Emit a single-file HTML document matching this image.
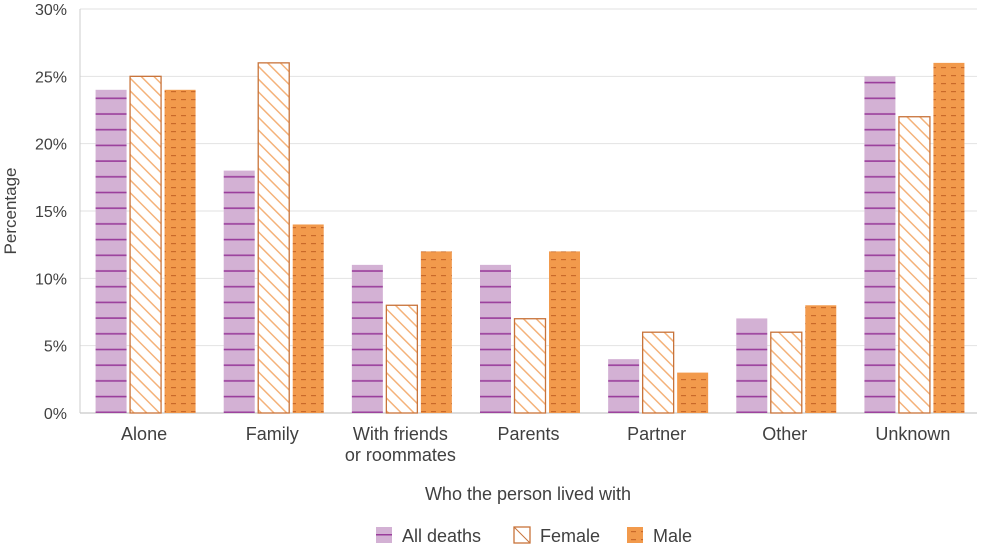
<!DOCTYPE html>
<html><head><meta charset="utf-8"><style>
body{margin:0;background:#fff;font-family:"Liberation Sans",sans-serif;}
text{font-family:"Liberation Sans",sans-serif;fill:#404040;}
</style></head><body>
<svg id="chart" width="1000" height="551">
<defs>
<pattern id="pPurple" width="8" height="15.7" patternUnits="userSpaceOnUse" y="5">
<rect width="8" height="15.7" fill="#d3b1d4"/><rect y="14" width="8" height="1.6" fill="#9a3d9b"/></pattern>
<pattern id="pFemale" width="9" height="9" patternUnits="userSpaceOnUse" patternTransform="rotate(-45)">
<rect width="9" height="9" fill="#fff"/><rect width="1.5" height="9" fill="#f4b27a"/></pattern>
<pattern id="pMale" width="10" height="8" patternUnits="userSpaceOnUse">
<rect width="10" height="8" fill="#f29a4c"/><rect x="1" y="3" width="5" height="1.2" fill="#c9692a"/></pattern>
</defs>
<g id="grid"></g><g id="bars"></g><g id="labels"></g>
<text x="16" y="211" font-size="17" transform="rotate(-90 16 211)" text-anchor="middle">Percentage</text>
<text x="528" y="500" font-size="18" text-anchor="middle">Who the person lived with</text>
<g>
<g><rect x="376" y="527" width="16" height="16" fill="#d3b1d4"/><rect x="376" y="534" width="16" height="1.5" fill="#9a3d9b"/><text x="402" y="542" font-size="18">All deaths</text></g>
<g><rect x="514" y="527" width="16" height="16" fill="#fff" stroke="#c8733a" stroke-width="1.3"/><line x1="514" y1="527" x2="530" y2="543" stroke="#c8733a"/><text x="540" y="542" font-size="18">Female</text></g>
<g><rect x="627" y="527" width="16" height="16" fill="url(#pMale)"/><text x="653" y="542" font-size="18">Male</text></g>
</g>
</svg>
<script>
const categories=[["Alone"],["Family"],["With friends","or roommates"],["Parents"],["Partner"],["Other"],["Unknown"]];
const allDeaths=[24,18,11,11,4,7,25];
const female=[25,26,8,7,6,6,22];
const male=[24,14,12,12,3,8,26];
const yTicks=[0,5,10,15,20,25,30];
const NS="http://www.w3.org/2000/svg";
const x0=80,x1=977,y0=413,y1=9;
const y=v=>y0-(v/30)*(y0-y1);
const band=(x1-x0)/categories.length;
const cx=i=>x0+band*(i+0.5);
function mk(t,a,p){const e=document.createElementNS(NS,t);for(const k in a)e.setAttribute(k,a[k]);p.appendChild(e);return e;}
const grid=document.getElementById('grid'),bars=document.getElementById('bars'),labels=document.getElementById('labels');
yTicks.forEach(t=>{
 const l=mk('line',{x1:x0,x2:x1,y1:y(t),y2:y(t),stroke:t===0?'#bbb':'#e2e2e2','stroke-width':1},grid);
 
 
 const tx=mk('text',{x:67,y:y(t)+6,'font-size':16,'text-anchor':'end'},labels);tx.textContent=t+'%';
 
 
});
mk('line',{x1:x0,x2:x0,y1:y1,y2:y0,stroke:'#ccc'},grid);
const series=[[allDeaths,'url(#pPurple)','none','all-deaths'],[female,'url(#pFemale)','#c8733a','female'],[male,'url(#pMale)','none','male']];
const bw=31,gap=3.5;
categories.forEach((c,i)=>{
 series.forEach((s,j)=>{
  const bx=cx(i)-1.5*bw-gap+j*(bw+gap)+1.5;
  const r=mk('rect',{x:bx,y:y(s[0][i]),width:bw,height:y0-y(s[0][i]),fill:s[1],stroke:s[2],'stroke-width':1.3},bars);
  
  
 });
 c.forEach((ln,k)=>{
  const t=mk('text',{x:cx(i),y:440+k*21,'font-size':18,'text-anchor':'middle'},labels);t.textContent=ln;
  
  
 });
});
</script>
</body></html>
